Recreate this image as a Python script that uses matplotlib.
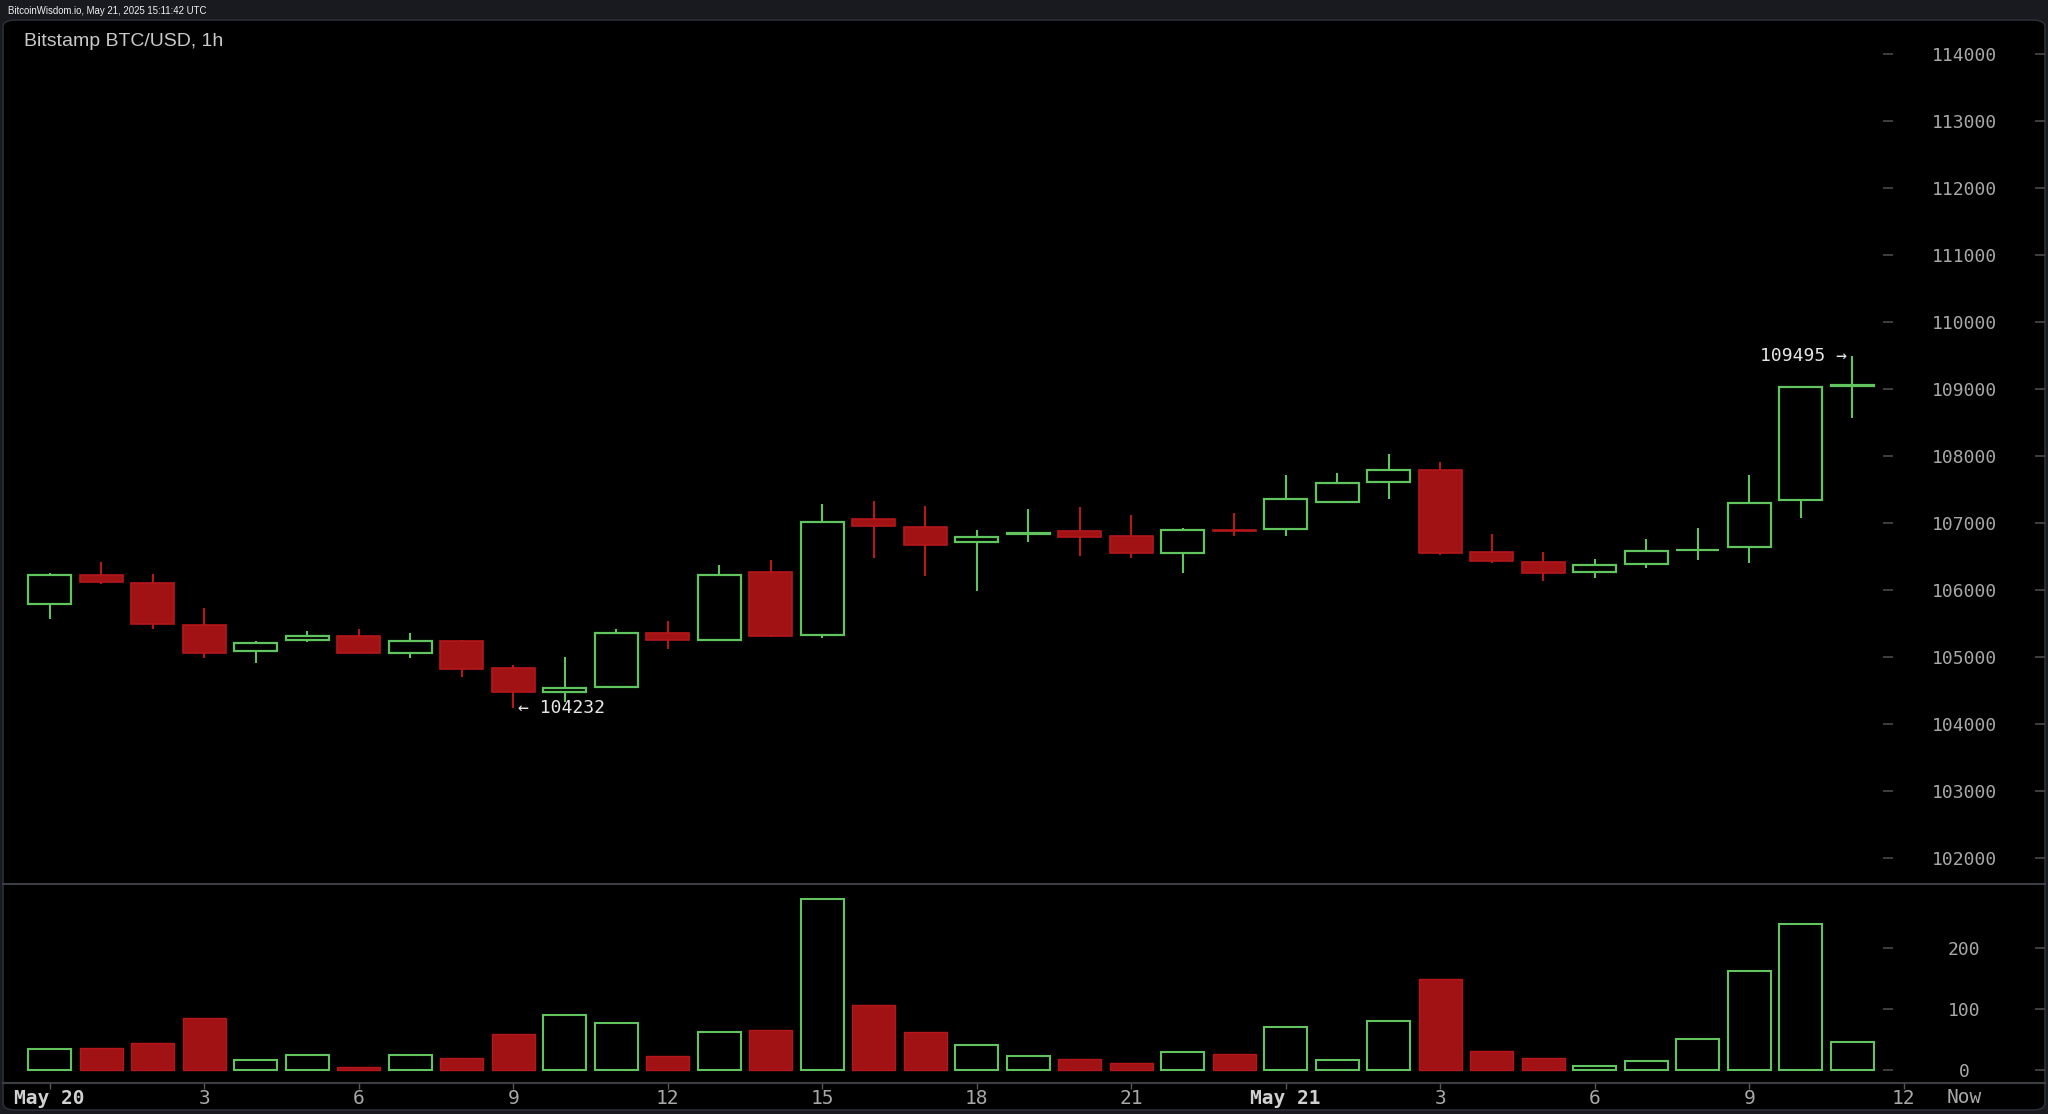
import matplotlib
matplotlib.use("Agg")
import matplotlib.pyplot as plt
from matplotlib.patches import FancyBboxPatch, Rectangle
from matplotlib.lines import Line2D
import numpy as np

# ---------------- data (hourly candles, May 20 00:00 -> May 21 11:00 UTC) ----------------
hours = list(range(36))
opens = [105785, 106225, 106104, 105478, 105085, 105255, 105315, 105055, 105245, 104838,
         104482, 104557, 105364, 105259, 106272, 105330, 107062, 106943, 106720, 106836,
         106876, 106806, 106548, 106900, 106910, 107316, 107605, 107784, 106562, 106413,
         106264, 106383, 106588, 106646, 107340, 109037]
highs = [106259, 106422, 106234, 105727, 105244, 105390, 105420, 105364, 105255, 104883,
         105003, 105415, 105538, 106368, 106442, 107283, 107331, 107256, 106896, 107210,
         107243, 107120, 106920, 107144, 107715, 107740, 108028, 107912, 106832, 106572,
         106468, 106756, 106920, 107715, 109032, 109495]
lows = [105562, 106094, 105413, 104989, 104914, 105225, 105055, 104980, 104697, 104232,
        104333, 104557, 105124, 105259, 105300, 105280, 106473, 106209, 105988, 106716,
        106508, 106473, 106249, 106810, 106810, 107316, 107360, 106518, 106398, 106138,
        106183, 106323, 106448, 106398, 107068, 108560]
closes = [106225, 106114, 105493, 105055, 105214, 105315, 105055, 105240, 104817, 104482,
          104542, 105360, 105250, 106219, 105319, 107008, 106953, 106666, 106795, 106856,
          106786, 106548, 106896, 106881, 107350, 107590, 107784, 106548, 106428, 106258,
          106368, 106587, 106598, 107300, 109027, 109062]
volumes = [35.5, 36, 44.8, 86.3, 17.5, 25.7, 4.9, 25.7, 20.2, 60.1,
           91.3, 78.1, 23.5, 62.3, 65.6, 281.4, 107.7, 62.3, 41, 23,
           18, 12.6, 30.6, 26.2, 70.5, 17.5, 80.9, 149.7, 31.1, 20.2,
           7.7, 14.8, 51.4, 162.8, 239.3, 47]

price_ticks = [102000, 103000, 104000, 105000, 106000, 107000, 108000,
               109000, 110000, 111000, 112000, 113000, 114000]
volume_ticks = [0, 100, 200]
x_tick_pos = [0, 3, 6, 9, 12, 15, 18, 21, 24, 27, 30, 33, 36]
x_tick_labels = ["May 20", "3", "6", "9", "12", "15", "18", "21", "May 21", "3", "6", "9", "12"]
low_label = "\u2190 104232"
high_label = "109495 \u2192"
title = "Bitstamp BTC/USD, 1h"
header = "BitcoinWisdom.io, May 21, 2025 15:11:42 UTC"

# ---------------- style ----------------
W, H = 2048, 1114
DPI = 100
OUTER = "#181a20"
GREEN = "#62c45e"
RED = "#a11214"
RED_EDGE = "#b5171a"
TICK_TXT = "#a8a8a8"
GRID_DASH = "#4a4a4a"
SEP = "#3c3e44"

fig = plt.figure(figsize=(W / DPI, H / DPI), dpi=DPI, facecolor=OUTER)

def fx(px):
    return px / W

def fy(py):
    return 1 - py / H

# panel
panel = FancyBboxPatch((fx(3), fy(1110)), fx(2045) - fx(3), fy(20) - fy(1110),
                       boxstyle="round,pad=0,rounding_size=0.006",
                       transform=fig.transFigure, facecolor="black",
                       edgecolor="#2b2e35", linewidth=1.2, zorder=-5)
fig.patches.append(panel)

L, R = 3, 2045
x0_px, dx_px = 49.7, 51.5
xlim = ((L - x0_px) / dx_px, (R - x0_px) / dx_px)

ax = fig.add_axes([fx(L), fy(884), fx(R) - fx(L), fy(20) - fy(884)])
axv = fig.add_axes([fx(L), fy(1083), fx(R) - fx(L), fy(884) - fy(1083)], sharex=ax)

for a in (ax, axv):
    a.set_facecolor("none")
    a.set_zorder(2)
    for s in a.spines.values():
        s.set_visible(False)

ax.set_xlim(*xlim)
ax.set_ylim(101614, 114500)
axv.set_ylim(-20.8, 305.4)

# ---------------- candles ----------------
bw = 0.83
for h, o, hi, lo, c in zip(hours, opens, highs, lows, closes):
    up = c >= o
    col = GREEN if up else RED_EDGE
    top, bot = max(o, c), min(o, c)
    ax.add_line(Line2D([h, h], [top, hi], color=col, lw=1.5, zorder=2, solid_capstyle="butt"))
    ax.add_line(Line2D([h, h], [lo, bot], color=col, lw=1.5, zorder=2, solid_capstyle="butt"))
    height = max(top - bot, 8)
    if up:
        ax.add_patch(Rectangle((h - bw / 2, bot), bw, height, facecolor="black",
                               edgecolor=GREEN, lw=1.6, zorder=3))
    else:
        ax.add_patch(Rectangle((h - bw / 2, bot), bw, height, facecolor=RED,
                               edgecolor=RED_EDGE, lw=1.2, zorder=3))

# volume bars
for h, v, o, c in zip(hours, volumes, opens, closes):
    if c >= o:
        axv.bar(h, v, width=bw, bottom=0, facecolor="black", edgecolor=GREEN, lw=1.5, zorder=3)
    else:
        axv.bar(h, v, width=bw, bottom=0, facecolor=RED, edgecolor=RED_EDGE, lw=1.0, zorder=3)

# ---------------- y ticks (right, labels inside) ----------------
mono = "DejaVu Sans Mono"
for a, ticks in ((ax, price_ticks), (axv, volume_ticks)):
    a.yaxis.tick_right()
    a.set_yticks(ticks)
    a.set_yticklabels([str(t) for t in ticks])
    a.tick_params(axis="y", which="major", direction="in", length=7.2, width=1.2,
                  color=GRID_DASH, pad=-58.3, labelsize=13, labelcolor=TICK_TXT)
    for t in a.get_yticklabels():
        t.set_horizontalalignment("center")
        t.set_fontfamily(mono)
    a.hlines(ticks, (1883 - L) / (R - L), (1893 - L) / (R - L),
             transform=a.get_yaxis_transform(), color=GRID_DASH, lw=1.2, zorder=1)

# ---------------- x ticks ----------------
ax.tick_params(axis="x", bottom=False, labelbottom=False)
axv.set_xticks(x_tick_pos)
axv.set_xticklabels(x_tick_labels)
axv.tick_params(axis="x", direction="out", length=4, width=1, color="#555555",
                pad=0.5, labelsize=14, labelcolor=TICK_TXT)
for t in axv.get_xticklabels():
    t.set_fontfamily(mono)
    if t.get_text().startswith("May"):
        t.set_fontweight("bold")
        t.set_color("#d0d0d0")
axv.text((1964 - L) / (R - L), -0.075, "Now", transform=axv.transAxes,
         ha="center", va="center", fontsize=14, family=mono, color=TICK_TXT)

# separator lines
fig.add_artist(Line2D([fx(3), fx(2045)], [fy(884), fy(884)], color=SEP, lw=1.5))
fig.add_artist(Line2D([fx(3), fx(2045)], [fy(1083), fy(1083)], color=SEP, lw=1.5))

# ---------------- annotations ----------------
ax.text(9 + 0.1, 104232, low_label, ha="left", va="center", fontsize=13,
        family=mono, color="#e6e6e6", zorder=5)
ax.text(35 - 0.1, 109495, high_label, ha="right", va="center", fontsize=13,
        family=mono, color="#e6e6e6", zorder=5)

# ---------------- titles ----------------
fig.text(fx(24), fy(42), title, ha="left", va="center", fontsize=14,
         family="Liberation Sans", color="#c9c9c9")
fig.text(fx(8), fy(11), header, ha="left", va="center", fontsize=6.95,
         family="Liberation Sans", color="#f0f0f0")

fig.savefig("out.png", dpi=DPI, facecolor=OUTER)
